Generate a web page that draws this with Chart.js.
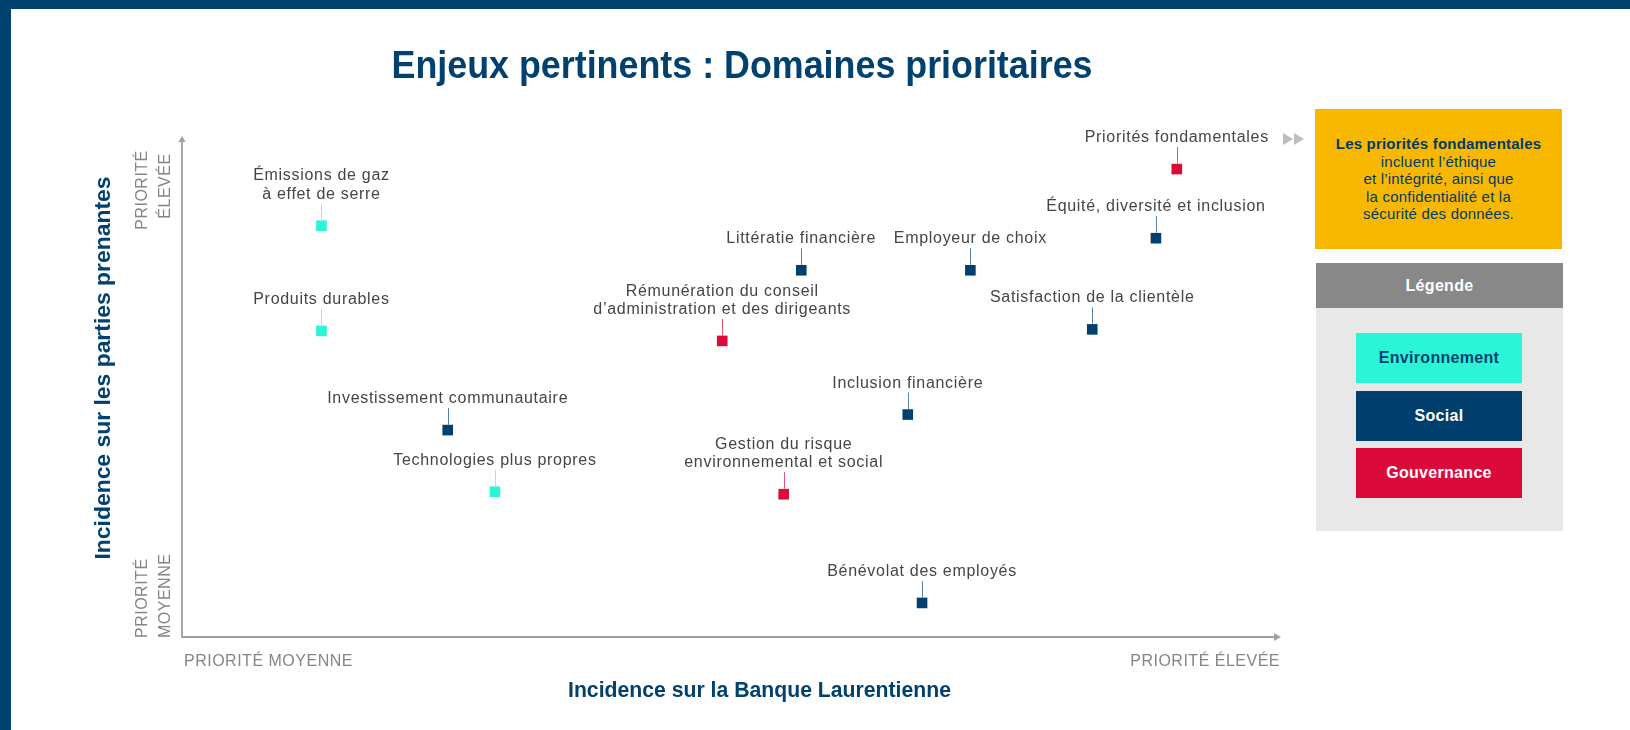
<!DOCTYPE html>
<html lang="fr">
<head>
<meta charset="utf-8">
<title>Enjeux pertinents : Domaines prioritaires</title>
<script src="https://cdn.jsdelivr.net/npm/chart.js@4.4.1/dist/chart.umd.min.js"></script>
<style>
  body { margin: 0; background: #fff; font-family: "Liberation Sans", Arial, sans-serif; }
  #page { position: relative; width: 1630px; height: 730px; overflow: hidden; }
  #page canvas { position: absolute; left: 0; top: 0; }
  .cadreHaut { position: absolute; left: 0; top: 0; width: 1630px; height: 9px; background: #00426f; }
  .cadreGauche { position: absolute; left: 0; top: 0; width: 11px; height: 730px; background: #00426f; }
  .encadre { position: absolute; left: 1315px; top: 109px; width: 247px; height: 140px; background: #f8b800;
    color: #003b6a; display: flex; align-items: center; justify-content: center; text-align: center;
    font-size: 15px; line-height: 17.5px; letter-spacing: 0.2px; }
  .legende { position: absolute; left: 1316px; top: 263px; width: 247px; height: 268px; background: #e8e8e8; }
  .legende .entete { height: 45px; background: #888; color: #fff; font-weight: bold; font-size: 16px;
    display: flex; align-items: center; justify-content: center; letter-spacing: 0.3px; }
  .legende .item { position: absolute; left: 40px; width: 166px; height: 50px; display: flex; align-items: center;
    justify-content: center; font-weight: bold; font-size: 16px; letter-spacing: 0.3px; }
</style>
</head>
<body>
<div id="page">
  <canvas id="grafEnjeux" width="1630" height="730"></canvas>
  <div class="cadreHaut"></div>
  <div class="cadreGauche"></div>
  <div class="encadre"><div><b>Les priorités fondamentales</b><br>incluent l’éthique<br>et l’intégrité, ainsi que<br>la confidentialité et la<br>sécurité des données.</div></div>
  <div class="legende" id="legende"><div class="entete">Légende</div></div>
</div>
<script>
const categories = ["Environnement", "Social", "Gouvernance"];
const couleurs = ["#2af5d6", "#003f6e", "#dc0a3b"];
const couleursTexteLegende = ["#003f6e", "#ffffff", "#ffffff"];
const couleursTraits = ["rgba(42,245,214,0.6)", "rgba(0,63,110,0.65)", "rgba(220,10,59,0.7)"];

const enjeux = [
    ["Émissions de gaz", "à effet de serre"],
    ["Produits durables"],
    ["Investissement communautaire"],
    ["Technologies plus propres"],
    ["Rémunération du conseil", "d’administration et des dirigeants"],
    ["Littératie financière"],
    ["Employeur de choix"],
    ["Gestion du risque", "environnemental et social"],
    ["Bénévolat des employés"],
    ["Inclusion financière"],
    ["Satisfaction de la clientèle"],
    ["Équité, diversité et inclusion"],
    ["Priorités fondamentales"]
];
const categorieEnjeu = [0, 0, 1, 0, 2, 1, 1, 2, 1, 1, 1, 1, 2];
const incidenceBanque = [12.7, 12.7, 24.2, 28.5, 49.2, 56.4, 71.8, 54.8, 67.4, 66.1, 82.9, 88.7, 90.6];
const incidenceParties = [82.1, 61.1, 41.3, 29.0, 59.1, 73.2, 73.2, 28.5, 6.8, 44.4, 61.4, 79.6, 93.4];

const repereAxeX = ["PRIORITÉ MOYENNE", "PRIORITÉ ÉLEVÉE"];
const repereAxeY = [["PRIORITÉ", "MOYENNE"], ["PRIORITÉ", "ÉLEVÉE"]];

// legende html
categories.forEach(function(nom, i) {
    const el = document.createElement("div");
    el.className = "item";
    el.style.top = (70 + i * 57.5) + "px";
    el.style.background = couleurs[i];
    el.style.color = couleursTexteLegende[i];
    el.textContent = nom;
    document.getElementById("legende").appendChild(el);
});

const jeux = categories.map(function(nom, c) {
    const points = [];
    enjeux.forEach(function(lignes, i) {
        if (categorieEnjeu[i] === c) points.push({ x: incidenceBanque[i], y: incidenceParties[i], nom: lignes });
    });
    return { label: nom, data: points, backgroundColor: couleurs[c], pointStyle: "rect", pointRadius: 7.5, pointBorderWidth: 0, pointHoverRadius: 7.5 };
});

function texteAjuste(ctx, texte, x, y, largeur) {
    const w = ctx.measureText(texte).width;
    ctx.save();
    ctx.translate(x, y);
    ctx.scale(largeur / w, 1);
    ctx.fillText(texte, 0, 0);
    ctx.restore();
}

const decor = {
    id: "decor",
    beforeDatasetsDraw(chart) {
        const ctx = chart.ctx;
        const a = chart.chartArea;
        ctx.save();
        // axes avec fleches
        ctx.strokeStyle = "#a0a0a0";
        ctx.fillStyle = "#a0a0a0";
        ctx.lineWidth = 1.8;
        ctx.beginPath();
        ctx.moveTo(a.left, a.top + 4);
        ctx.lineTo(a.left, a.bottom);
        ctx.lineTo(a.right - 4, a.bottom);
        ctx.stroke();
        ctx.beginPath();
        ctx.moveTo(a.right + 1, a.bottom);
        ctx.lineTo(a.right - 6, a.bottom - 4);
        ctx.lineTo(a.right - 6, a.bottom + 4);
        ctx.closePath();
        ctx.fill();
        ctx.beginPath();
        ctx.moveTo(a.left, a.top);
        ctx.lineTo(a.left - 3.5, a.top + 6);
        ctx.lineTo(a.left + 3.5, a.top + 6);
        ctx.closePath();
        ctx.fill();

        // reperes des axes
        ctx.fillStyle = "#858585";
        ctx.font = "16px 'Liberation Sans', Arial, sans-serif";
        ctx.letterSpacing = "0.5px";
        ctx.textBaseline = "alphabetic";
        ctx.textAlign = "left";
        ctx.fillText(repereAxeX[0], a.left + 2, a.bottom + 29);
        ctx.textAlign = "right";
        ctx.fillText(repereAxeX[1], a.right, a.bottom + 29);

        function vertical(texte, x, y, align) {
            ctx.save();
            ctx.translate(x, y);
            ctx.rotate(-Math.PI / 2);
            ctx.textAlign = align;
            ctx.fillText(texte, 0, 0);
            ctx.restore();
        }
        vertical(repereAxeY[0][0], 146.5, a.bottom + 1, "left");
        vertical(repereAxeY[0][1], 170, a.bottom + 1, "left");
        vertical(repereAxeY[1][0], 146.5, 190, "center");
        vertical(repereAxeY[1][1], 170, 186, "center");

        // titres
        ctx.letterSpacing = "0px";
        ctx.fillStyle = "#00416f";
        ctx.textAlign = "center";
        ctx.font = "bold 38px 'Liberation Sans', Arial, sans-serif";
        texteAjuste(ctx, "Enjeux pertinents : Domaines prioritaires", 742, 78, 701);
        ctx.font = "bold 22px 'Liberation Sans', Arial, sans-serif";
        texteAjuste(ctx, "Incidence sur la Banque Laurentienne", 759.5, 697, 383);
        ctx.save();
        ctx.translate(110, 368);
        ctx.rotate(-Math.PI / 2);
        texteAjuste(ctx, "Incidence sur les parties prenantes", 0, 0, 383);
        ctx.restore();

        // double fleche vers l'encadre
        ctx.fillStyle = "#bdbdbd";
        [1283, 1294].forEach(function(x0) {
            ctx.beginPath();
            ctx.moveTo(x0, 133);
            ctx.lineTo(x0 + 10, 139);
            ctx.lineTo(x0, 145);
            ctx.closePath();
            ctx.fill();
        });
        ctx.restore();
    },
    afterDatasetsDraw(chart) {
        const ctx = chart.ctx;
        ctx.save();
        ctx.font = "16px 'Liberation Sans', Arial, sans-serif";
        ctx.letterSpacing = "0.7px";
        ctx.textAlign = "center";
        ctx.textBaseline = "alphabetic";
        chart.data.datasets.forEach(function(ds, d) {
            const meta = chart.getDatasetMeta(d);
            meta.data.forEach(function(pt, i) {
                const lignes = ds.data[i].nom;
                const x = Math.round(pt.x) + 0.5;
                ctx.strokeStyle = couleursTraits[d];
                ctx.lineWidth = 1;
                ctx.beginPath();
                ctx.moveTo(x, pt.y - 22);
                ctx.lineTo(x, pt.y - 5.5);
                ctx.stroke();
                ctx.fillStyle = "#454545";
                lignes.forEach(function(l, k) {
                    ctx.fillText(l, pt.x, pt.y - 27 - (lignes.length - 1 - k) * 18.3);
                });
            });
        });
        ctx.restore();
    }
};

new Chart(document.getElementById("grafEnjeux"), {
    type: "scatter",
    data: { datasets: jeux },
    options: {
        responsive: false,
        animation: false,
        events: [],
        layout: { padding: { left: 182, right: 350, top: 136, bottom: 93 } },
        scales: {
            x: { display: false, min: 0, max: 100 },
            y: { display: false, min: 0, max: 100 }
        },
        plugins: { legend: { display: false }, tooltip: { enabled: false } }
    },
    plugins: [decor]
});
</script>
</body>
</html>
